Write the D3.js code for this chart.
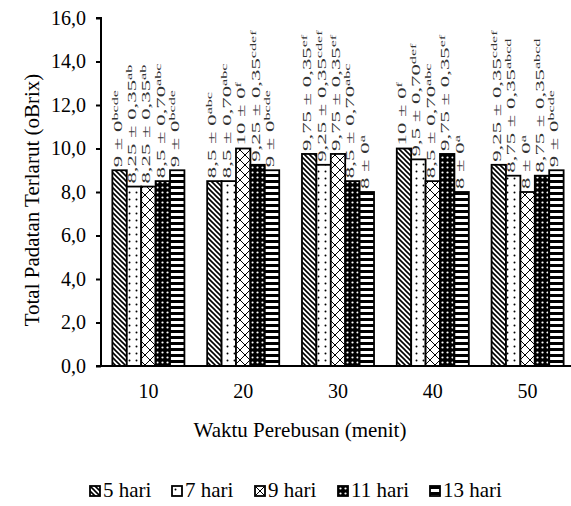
<!DOCTYPE html>
<html>
<head>
<meta charset="utf-8">
<script src="https://cdn.jsdelivr.net/npm/d3@7"></script>
<style>
  body { margin: 0; background: #fff; }
  .axis path, .axis line { stroke: #000; stroke-width: 2; }
</style>
</head>
<body>
<svg id="chart"></svg>
<script>
// data
const groups = ["10", "20", "30", "40", "50"];
const seriesNames = ["5 hari", "7 hari", "9 hari", "11 hari", "13 hari"];

const hari5 = [9, 8.5, 9.75, 10, 9.25];
const hari7 = [8.25, 8.5, 9.25, 9.5, 8.75];
const hari9 = [8.25, 10, 9.75, 8.5, 8];
const hari11 = [8.5, 9.25, 8.5, 9.75, 8.75];
const hari13 = [9, 9, 8, 8, 9];

const sd5 = [0, 0, 0.35, 0, 0.35];
const sd7 = [0.35, 0.70, 0.35, 0.70, 0.35];
const sd9 = [0.35, 0, 0.35, 0.70, 0];
const sd11 = [0.70, 0.35, 0.70, 0.35, 0.35];
const sd13 = [0, 0, 0, 0, 0];

const let5 = ["bcde", "abc", "ef", "f", "cdef"];
const let7 = ["ab", "abc", "cdef", "def", "abcd"];
const let9 = ["ab", "f", "ef", "abc", "a"];
const let11 = ["abc", "cdef", "abc", "ef", "abcd"];
const let13 = ["bcde", "bcde", "a", "a", "bcde"];

const yTicks = [0, 2, 4, 6, 8, 10, 12, 14, 16];

const FONT = "'Liberation Serif', 'Times New Roman', Times, 'DejaVu Serif', serif";

class barChart {
    constructor(_config) {
        this.config = {
            parentElement: _config.parentElement,
            containerWidth: _config.containerWidth || 571,
            containerHeight: _config.containerHeight || 506
        };
        const means = [hari5, hari7, hari9, hari11, hari13];
        const sds = [sd5, sd7, sd9, sd11, sd13];
        const lets = [let5, let7, let9, let11, let13];
        // flat table, one row per bar
        this.data = [];
        groups.forEach((g, gi) => {
            seriesNames.forEach((s, si) => {
                this.data.push({group: g, series: s, si: si,
                    value: means[si][gi], sd: sds[si][gi], letter: lets[si][gi]});
            });
        });
        this.initVis();
    }

    initVis() {
        let vis = this;

        vis.svg = d3.select(vis.config.parentElement)
            .attr('width', vis.config.containerWidth)
            .attr('height', vis.config.containerHeight)
            .attr('font-family', FONT);

        vis.xScale = d3.scaleBand()
            .domain(groups)
            .range([101, 575])
            .paddingInner(0.24)
            .paddingOuter(0.12);

        vis.xInner = d3.scaleBand()
            .domain(seriesNames)
            .range([0, vis.xScale.bandwidth()]);

        vis.yScale = d3.scaleLinear()
            .domain([0, 16])
            .range([366, 18]);

        vis.makePatterns();
        vis.renderVis();
    }

    makePatterns() {
        let vis = this;
        const defs = vis.svg.append("defs");

        // 5 hari: diagonal lines
        let p = defs.append("pattern").attr("id", "p0")
            .attr("patternUnits", "userSpaceOnUse").attr("width", 5).attr("height", 5);
        p.append("rect").attr("width", 5).attr("height", 5).attr("fill", "#fff");
        p.append("path").attr("d", "M0,0L5,5M-1,4L1,6M4,-1L6,1")
            .attr("stroke", "#000").attr("stroke-width", 1.6);

        // 7 hari: sparse dots
        p = defs.append("pattern").attr("id", "p1")
            .attr("patternUnits", "userSpaceOnUse").attr("width", 7).attr("height", 7);
        p.append("rect").attr("width", 7).attr("height", 7).attr("fill", "#fff");
        p.append("circle").attr("cx", 3.5).attr("cy", 3.5).attr("r", 1).attr("fill", "#000");

        // 9 hari: crosses
        p = defs.append("pattern").attr("id", "p2")
            .attr("patternUnits", "userSpaceOnUse").attr("width", 10).attr("height", 10);
        p.append("rect").attr("width", 10).attr("height", 10).attr("fill", "#fff");
        p.append("path").attr("d", "M0,0L10,10M10,0L0,10")
            .attr("stroke", "#000").attr("stroke-width", 1);

        // 11 hari: black with white dots
        p = defs.append("pattern").attr("id", "p3")
            .attr("patternUnits", "userSpaceOnUse").attr("width", 5).attr("height", 5);
        p.append("rect").attr("width", 5).attr("height", 5).attr("fill", "#000");
        p.append("circle").attr("cx", 2.5).attr("cy", 2.5).attr("r", 1.1).attr("fill", "#fff");

        // 13 hari: horizontal stripes
        p = defs.append("pattern").attr("id", "p4")
            .attr("patternUnits", "userSpaceOnUse").attr("width", 6).attr("height", 6);
        p.append("rect").attr("width", 6).attr("height", 6).attr("fill", "#000");
        p.append("rect").attr("y", 3).attr("width", 6).attr("height", 3).attr("fill", "#fff");
    }

    renderVis() {
        let vis = this;
        const comma = s => String(s).replace(".", ",");
        const fmtSd = v => v === 0 ? "0" : comma(v.toFixed(2));

        // bars
        vis.svg.append("g").selectAll("rect")
            .data(vis.data)
            .join("rect")
            .attr("x", d => vis.xScale(d.group) + vis.xInner(d.series))
            .attr("y", d => vis.yScale(d.value))
            .attr("width", vis.xInner.bandwidth())
            .attr("height", d => vis.yScale(0) - vis.yScale(d.value))
            .attr("fill", d => `url(#p${d.si})`)
            .attr("stroke", "#000")
            .attr("stroke-width", 1.8);

        // value labels, rotated
        const lab = vis.svg.append("g").selectAll("text")
            .data(vis.data)
            .join("text")
            .attr("transform", d => {
                const cx = vis.xScale(d.group) + vis.xInner(d.series) + vis.xInner.bandwidth() / 2 + 2;
                return `translate(${cx},${vis.yScale(d.value) - 3}) rotate(-90) scale(1.9,1)`;
            })
            .attr("font-family", FONT)
            .attr("font-size", 12)
            .attr("fill", "#333");
        lab.append("tspan").text(d => `${comma(d.value)} ± ${fmtSd(d.sd)}`);
        lab.append("tspan").attr("font-size", 8.5).attr("dy", -4).text(d => d.letter);

        // axes
        vis.yAxis = d3.axisLeft(vis.yScale)
            .tickValues(yTicks)
            .tickSize(5)
            .tickPadding(10)
            .tickFormat(d => comma(d3.format(".1f")(d)));
        vis.yAxisG = vis.svg.append("g")
            .attr("class", "axis y-axis")
            .attr("transform", "translate(101,0)")
            .call(vis.yAxis)
            .attr("font-family", FONT);
        vis.yAxisG.select(".domain").attr("d", `M-5,${vis.yScale(16)}H0V${vis.yScale(0)}H-5`);
        vis.yAxisG.selectAll("text").attr("font-size", 20).attr("fill", "#000");

        vis.xAxis = d3.axisBottom(vis.xScale).tickSize(0).tickPadding(18);
        vis.xAxisG = vis.svg.append("g")
            .attr("class", "axis x-axis")
            .attr("transform", `translate(0,${vis.yScale(0)})`)
            .call(vis.xAxis)
            .attr("font-family", FONT);
        vis.xAxisG.select(".domain").attr("d", "M96,0H571");
        vis.xAxisG.selectAll("text").attr("font-size", 20).attr("fill", "#000");

        // axis titles
        vis.svg.append("text")
            .attr("x", 300).attr("y", 437)
            .attr("text-anchor", "middle")
            .attr("font-size", 21)
            .text("Waktu Perebusan (menit)");

        vis.svg.append("text")
            .attr("transform", "translate(39,200) rotate(-90)")
            .attr("text-anchor", "middle")
            .attr("font-size", 21)
            .text("Total Padatan Terlarut (oBrix)");

        // legend
        const legX = [90, 172, 255, 338, 430];
        const leg = vis.svg.append("g").selectAll("g")
            .data(seriesNames)
            .join("g")
            .attr("transform", (d, i) => `translate(${legX[i]},486)`);
        leg.append("rect")
            .attr("width", 10).attr("height", 10)
            .attr("fill", (d, i) => `url(#p${i})`)
            .attr("stroke", "#000").attr("stroke-width", 1.8);
        leg.append("text")
            .attr("x", 13).attr("y", 11)
            .attr("font-size", 21)
            .text(d => d);
    }
}

new barChart({parentElement: "#chart"});
</script>
</body>
</html>
